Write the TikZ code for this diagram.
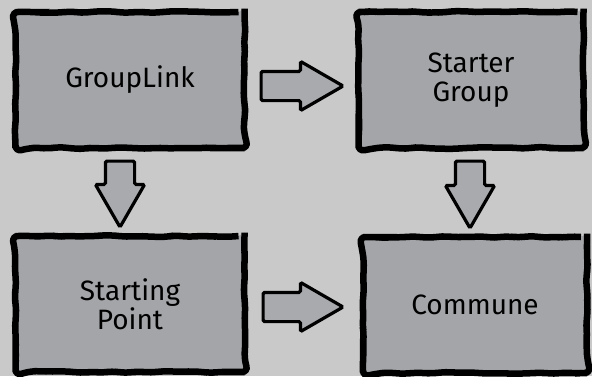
\documentclass[tikz,border=0pt]{standalone}
\usepackage{fontspec}
\setmainfont{Fira Sans}
\usetikzlibrary{shapes.arrows,decorations.pathmorphing}
\definecolor{bggray}{RGB}{201,201,201}
\definecolor{boxgray}{RGB}{163,165,168}
\definecolor{arrowgray}{RGB}{168,170,173}
\tikzset{
  box/.style={draw=black, line width=6.5pt, fill=boxgray, rounded corners=6pt,
    decorate, decoration={random steps, segment length=9pt, amplitude=0.9pt},
    inner sep=0pt, align=center, font=\fontsize{28}{31}\selectfont},
  blockarrow/.style={single arrow, draw=black, line width=3.2pt, fill=arrowgray,
    inner sep=13pt, single arrow head extend=10pt, single arrow tip angle=60,
    rounded corners=1.5pt, anchor=tail}
}
\begin{document}
\begin{tikzpicture}[x=1pt,y=-1pt]
\fill[bggray] (0,0) rectangle (592,376);
\useasboundingbox (0,0) rectangle (592,376);
\node[box, minimum width=229pt, minimum height=136pt] (gl) at (130,80) {GroupLink};
\node[box, minimum width=225pt, minimum height=136pt] (sg) at (471,80) {Starter\\[-2pt]Group};
\node[box, minimum width=229pt, minimum height=136pt] (sp) at (130,304) {Starting\\[-2pt]Point};
\node[box, minimum width=224pt, minimum height=136pt] (cm) at (475,305) {Commune};
\node[blockarrow, minimum height=82pt] (a1) at (259.5,86) {};
\node[blockarrow, minimum height=80pt] (a2) at (261.5,307) {};
\node[blockarrow, minimum height=66pt, shape border rotate=270] (a3) at (120,159.5) {};
\node[blockarrow, minimum height=67pt, shape border rotate=270] (a4) at (470,159.5) {};
\end{tikzpicture}
\end{document}
